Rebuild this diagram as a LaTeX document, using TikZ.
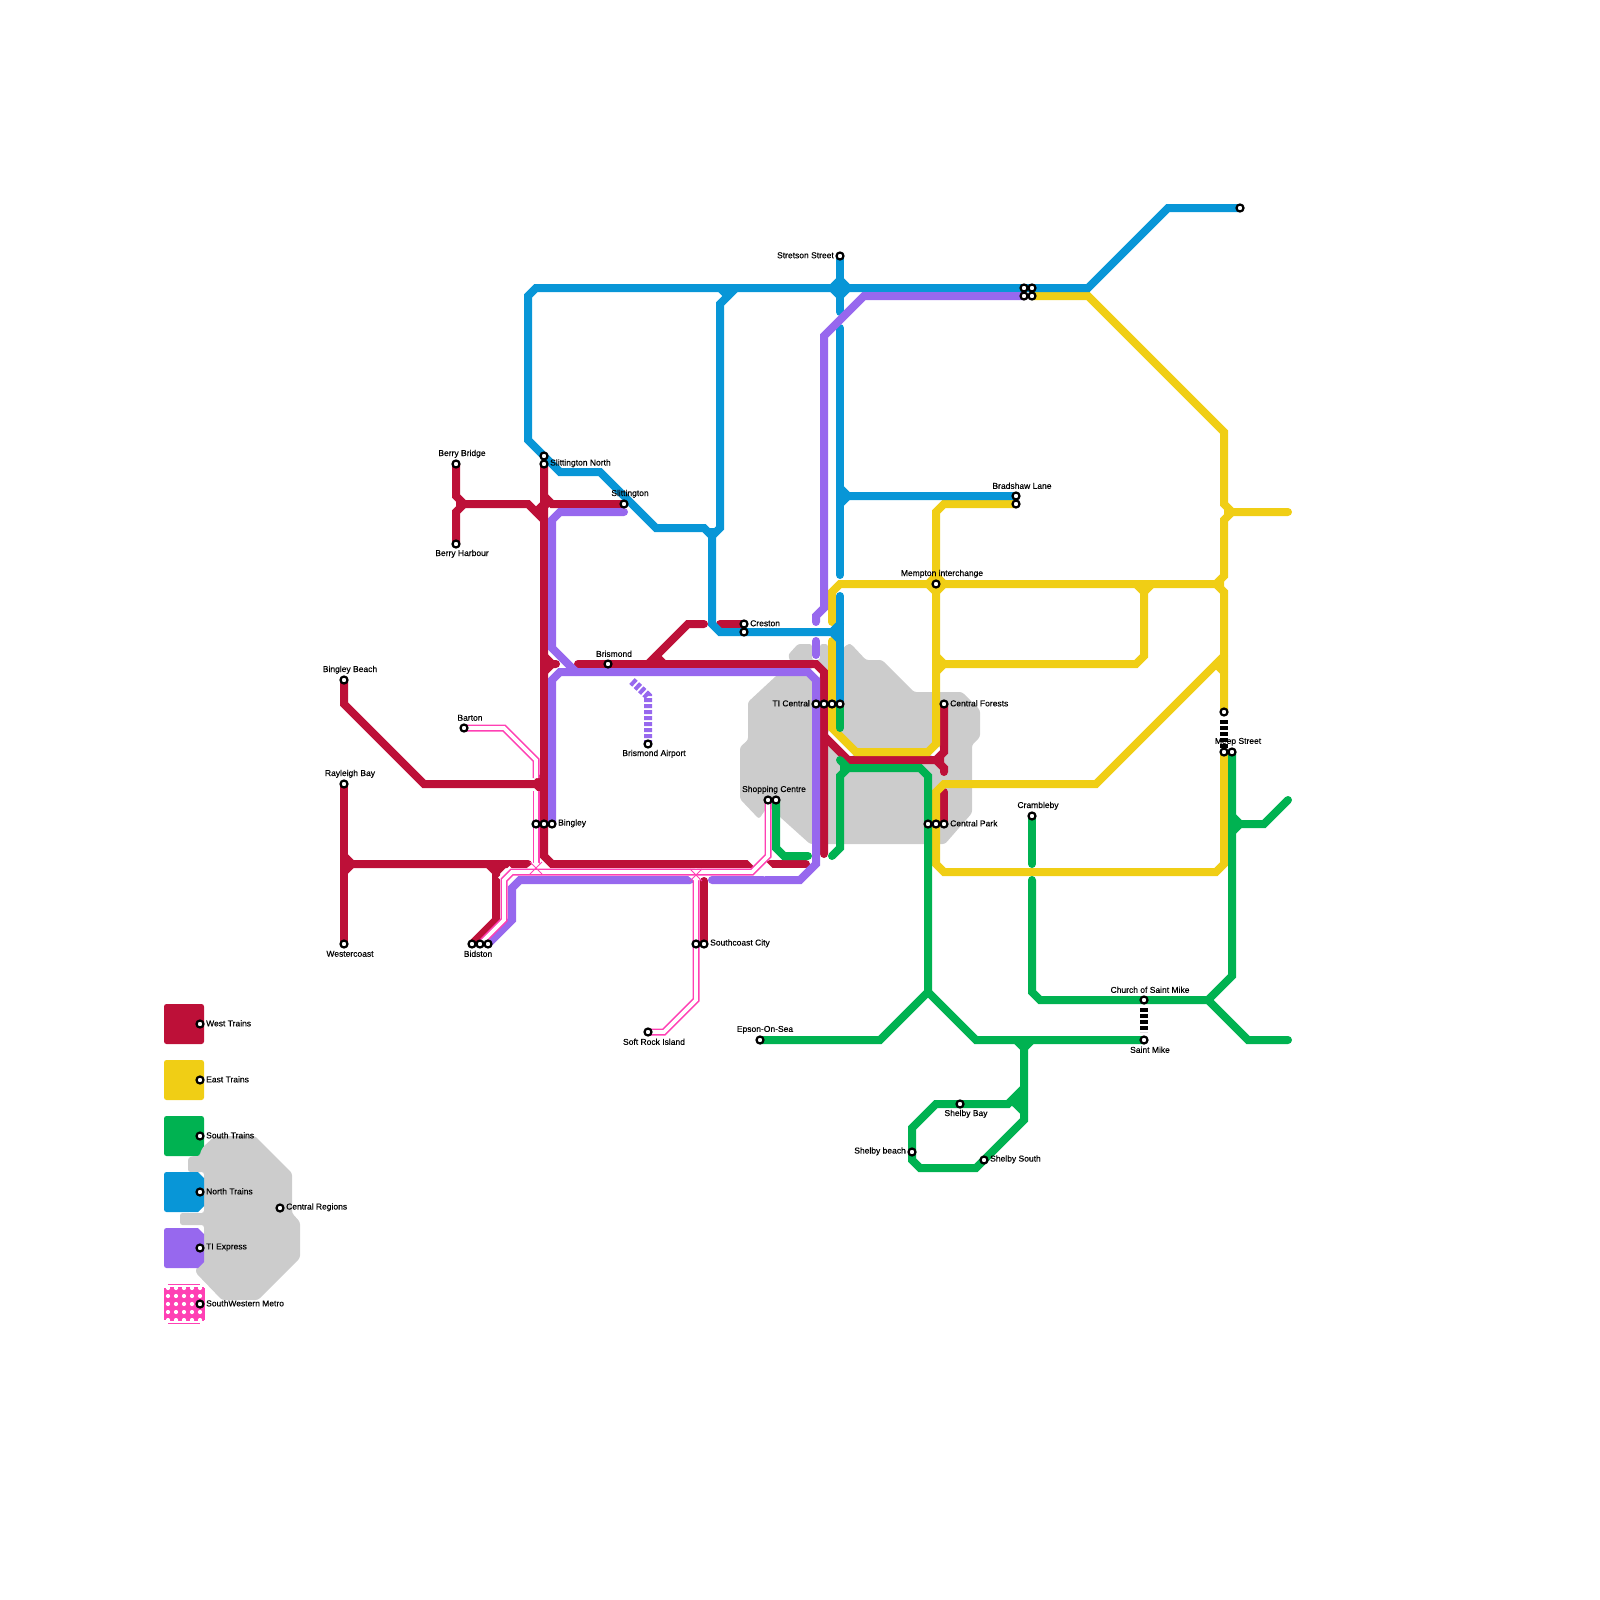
\documentclass[tikz,border=0pt]{standalone}
\usepackage{fontspec}
\setmainfont{Liberation Sans}
\newfontfamily\mapfont[FakeBold=0.25]{Liberation Sans}
\definecolor{cred}{HTML}{BD1038}
\definecolor{cyel}{HTML}{F0CE15}
\definecolor{cgrn}{HTML}{00B251}
\definecolor{cblu}{HTML}{0896D7}
\definecolor{cpur}{HTML}{9768EE}
\definecolor{cpnk}{HTML}{FF40B4}
\definecolor{cgry}{HTML}{CCCCCC}
\pgfdeclarelayer{lines}
\pgfsetlayers{lines,main}
\tikzset{
 metro/.style={line width=8pt,line cap=round,line join=miter},
 wt/.style={metro,draw=cred},
 et/.style={metro,draw=cyel},
 st/.style={metro,draw=cgrn},
 nt/.style={metro,draw=cblu},
 ti/.style={metro,draw=cpur},
 swout/.style={line width=7pt,line cap=butt,line join=miter,draw=cpnk},
 swin/.style={line width=3.6pt,line cap=butt,line join=miter,draw=white},
 region/.style={fill=cgry,rounded corners=2.5pt},
 sliver/.style={draw=white,line width=3.4pt},
 dashline/.style={line width=8pt,dash pattern=on 4pt off 2pt},
 dot/.style={circle,draw=black,fill=white,line width=2.2pt,minimum size=7pt,inner sep=0pt},
 lab/.style={font=\mapfont\fontsize{8.5}{9}\selectfont,inner sep=0pt,text=black,yshift=-0.8pt},
 labw/.style={lab,anchor=west,yshift=0.5pt},
 labe/.style={lab,anchor=east,yshift=0.5pt},
}
\newcommand{\swline}[1]{\draw[swout] #1; \draw[swin] #1;}
\begin{document}
\begin{tikzpicture}[x=1pt,y=-1pt]
\useasboundingbox (0,0) rectangle (1600,1600);
% stations
\foreach \n/\x/\y in {BerryBridge/456/464,BerryHarbour/456/544,SlitA/544/456,SlitN/544/464,Slit/624/504,
 Brismond/608/664,Barton/464/728,CrestonA/744/624,Creston/744/632,
 TIa/816/704,TIb/824/704,TIc/832/704,TId/840/704,Airport/648/744,
 ShopA/768/800,ShopB/776/800,Forests/944/704,ParkA/928/824,ParkB/936/824,ParkC/944/824,
 BingA/536/824,BingB/544/824,BingC/552/824,BidA/472/944,BidB/480/944,BidC/488/944,
 SouthA/696/944,SouthB/704/944,SoftRock/648/1032,BingBeach/344/680,Rayleigh/344/784,Wester/344/944,
 Stretson/840/256,FourA/1024/288,FourB/1032/288,FourC/1024/296,FourD/1032/296,BlueEnd/1240/208,
 BradA/1016/496,BradB/1016/504,Mempton/936/584,MeepTop/1224/712,MeepA/1224/752,MeepB/1232/752,
 Cramb/1032/816,Church/1144/1000,SaintMike/1144/1040,Epson/760/1040,ShelBay/960/1104,ShelBeach/912/1152,ShelSouth/984/1160,
 LegW/200/1024,LegE/200/1080,LegS/200/1136,LegN/200/1192,LegT/200/1248,LegM/200/1304,CentralReg/280/1208}
 {\node[dot] (\n) at (\x,\y) {};}
% labels
\node[lab] (tBerryBridge) at (462,453) {Berry Bridge};
\node[lab] (tBerryHarbour) at (462,553) {Berry Harbour};
\node[labw] (tSlitN) at (550,463) {Slittington North};
\node[lab] (tSlit) at (630,493) {Slittington};
\node[lab] (tBrismond) at (614,653) {Brismond};
\node[lab] (tBarton) at (470,717) {Barton};
\node[labw] (tCreston) at (750,623) {Creston};
\node[labe] (tTI) at (810,703) {TI Central};
\node[lab] (tAirport) at (654,753) {Brismond Airport};
\node[lab] (tShop) at (774,789) {Shopping Centre};
\node[labw] (tForests) at (950,703) {Central Forests};
\node[labw] (tPark) at (950,823) {Central Park};
\node[labw] (tBingley) at (558,823) {Bingley};
\node[lab] (tBidston) at (478,953) {Bidston};
\node[labw] (tSouth) at (710,943) {Southcoast City};
\node[lab] (tSoft) at (654,1041) {Soft Rock Island};
\node[lab] (tBingBeach) at (350,669) {Bingley Beach};
\node[lab] (tRayleigh) at (350,773) {Rayleigh Bay};
\node[lab] (tWester) at (350,953) {Westercoast};
\node[labe] (tStretson) at (834,255) {Stretson Street};
\node[lab] (tBrad) at (1022,485) {Bradshaw Lane};
\node[lab] (tMempton) at (942,573) {Mempton interchange};
\node[lab] (tMeep) at (1238,741) {Meep Street};
\node[lab] (tCramb) at (1038,805) {Crambleby};
\node[lab] (tChurch) at (1150,989) {Church of Saint Mike};
\node[lab] (tSaint) at (1150,1049) {Saint Mike};
\node[lab] (tShelBay) at (966,1113) {Shelby Bay};
\node[labw] (tShelSouth) at (990,1159) {Shelby South};
\node[labe] (tShelBeach) at (906,1151) {Shelby beach};
\node[lab] (tEpson) at (765,1029) {Epson-On-Sea};
\node[labw] (tLegW) at (206,1023) {West Trains};
\node[labw] (tLegE) at (206,1079) {East Trains};
\node[labw] (tLegS) at (206,1135) {South Trains};
\node[labw] (tLegN) at (206,1191) {North Trains};
\node[labw] (tLegT) at (206,1247) {TI Express};
\node[labw] (tLegM) at (206,1303) {SouthWestern Metro};
\node[labw] (tCentral) at (286,1207) {Central Regions};

\begin{pgfonlayer}{lines}
% legend squares below region
\fill[cred,rounded corners=2.5pt] (164,1004) rectangle (204,1044);
\fill[cyel,rounded corners=2.5pt] (164,1060) rectangle (204,1100);
\fill[cgrn,rounded corners=2.5pt] (164,1116) rectangle (204,1156);
% regions
\path[region] (192,1156) -- (200,1156) -- (200,1153) -- (203,1147) -- (215,1136) -- (255,1136) -- (292,1173) -- (292,1213) -- (300,1222) -- (300,1258) -- (258,1300) -- (222,1300) -- (196,1273) -- (196,1268) -- (204,1262) -- (204,1225) -- (180,1225) -- (180,1213) -- (204,1213) -- (204,1172) -- (188,1172) -- (188,1158) -- cycle;
\path[region] (790,660) -- (788,655) -- (798,644) -- (812,644) -- (812,660) -- (820,660) -- (820,644) -- (828,644) -- (828,660) -- (843,660) -- (843,648) -- (848,644) -- (851,644) -- (866,660) -- (882,660) -- (914,692) -- (962,692) -- (980,710) -- (980,737) -- (972,745) -- (972,813) -- (945,844) -- (810,844) -- (780,817) -- (768,806) -- (759,819) -- (740,799) -- (740,747) -- (748,740) -- (748,702) -- (776,676) -- (790,668) -- cycle;
\draw[sliver] (828,732) -- (852,756);
\draw[sliver] (940,748) -- (932,756);
\draw[sliver] (812,668) -- (820,676);
% legend squares over region
\fill[cblu] (190,1172) -- (198,1172) -- (204,1178) -- (204,1206) -- (198,1212) -- (190,1212) -- cycle;
\fill[cblu,rounded corners=2.5pt] (164,1172) rectangle (192,1212);
\fill[cpur] (190,1228) -- (198,1228) -- (204,1234) -- (204,1262) -- (198,1268) -- (190,1268) -- cycle;
\fill[cpur,rounded corners=2.5pt] (164,1228) rectangle (192,1268);
% SouthWestern legend
\fill[cpnk] (166,1287) rectangle (203.5,1321);
\draw[cpnk,line width=1.2pt] (168,1284.4) -- (200,1284.4) (168,1323.6) -- (200,1323.6) (165,1288) -- (165,1320) (204.4,1288) -- (204.4,1320);
\foreach \px in {168,176,184,192,200}{\foreach \py in {1288,1296,1304,1312,1320}{\fill[white] (\px,\py) circle (2.1pt);}}
% West Trains
\draw[wt] (BerryBridge.center) -- (456,496) -- (464,504) -- (528,504) -- (544,520);
\draw[wt] (BerryHarbour.center) -- (456,512) -- (464,504);
\draw[wt] (Slit.center) -- (552,504) -- (544,496);
\draw[wt] (SlitN.center) -- (544,856) -- (552,864) -- (752,864);
\draw[wt] (544,656) -- (552,664) -- (556,664);
\draw[wt] (544,672) -- (552,664);
\draw[wt] (578,664) -- (816,664) -- (824,672) -- (824,854);
\draw[wt] (704,624) -- (688,624) -- (648,664);
\draw[wt] (656,656) -- (664,664);
\draw[wt] (720,624) -- (CrestonA.center);
\draw[wt] (824,736) -- (848,760) -- (936,760) -- (944,752) -- (Forests.center);
\draw[wt] (936,760) -- (944,768) -- (944,772);
\draw[wt] (944,792) -- (ParkC.center);
\draw[wt] (770,864) -- (806,864);
\draw[wt] (704,881) -- (SouthB.center);
\draw[wt] (Rayleigh.center) -- (Wester.center);
\draw[wt] (344,856) -- (352,864) -- (528,864);
\draw[wt] (344,872) -- (352,864);
\draw[wt] (488,864) -- (496,872) -- (496,920) -- (BidA.center);
\draw[wt] (504,864) -- (496,872);
\draw[wt] (BingBeach.center) -- (344,704) -- (424,784) -- (544,784);
\draw[wt] (544,776) -- (536,784) -- (544,792);
\draw[wt] (536,512) -- (544,504);
\fill[cred] (456,496) -- (464,504) -- (456,512) -- cycle
 (536,512) -- (544,504) -- (544,520) -- cycle
 (544,496) -- (552,504) -- (544,512) -- cycle
 (544,656) -- (552,664) -- (544,672) -- cycle
 (648,664) -- (656,656) -- (664,664) -- cycle
 (936,760) -- (944,752) -- (944,768) -- cycle
 (344,856) -- (352,864) -- (344,872) -- cycle
 (488,864) -- (496,872) -- (504,864) -- cycle
 (536,784) -- (544,776) -- (544,792) -- cycle;
% East Trains
\draw[et] (FourD.center) -- (1088,296) -- (1224,432) -- (1224,504) -- (1232,512) -- (1288,512);
\draw[et] (1232,512) -- (1224,520) -- (1224,576) -- (1216,584) -- (840,584) -- (832,592) -- (832,622);
\draw[et] (1216,584) -- (1224,592) -- (MeepTop.center);
\draw[et] (1136,584) -- (1144,592) -- (1144,656) -- (1136,664) -- (944,664) -- (936,656);
\draw[et] (1152,584) -- (1144,592);
\draw[et] (944,664) -- (936,672);
\draw[et,fill=cyel] (928,584) -- (936,576) -- (944,584) -- (936,592) -- cycle;
\draw[et] (BradB.center) -- (944,504) -- (936,512) -- (936,744) -- (928,752) -- (856,752) -- (832,728) -- (832,641);
\draw[et] (1224,656) -- (1096,784) -- (944,784) -- (936,792) -- (936,864) -- (944,872) -- (1216,872) -- (1224,864) -- (MeepA.center);
\draw[et] (1216,664) -- (1224,672);
\fill[cyel] (1224,504) -- (1232,512) -- (1224,520) -- cycle
 (1136,584) -- (1144,592) -- (1152,584) -- cycle
 (1216,584) -- (1224,576) -- (1224,592) -- cycle
 (936,656) -- (944,664) -- (936,672) -- cycle
 (1216,664) -- (1224,656) -- (1224,672) -- cycle;
% South Trains
\draw[st] (TId.center) -- (840,728);
\draw[st] (840,760) -- (848,768) -- (920,768) -- (928,776) -- (928,992);
\draw[st] (848,768) -- (840,776) -- (840,848) -- (832,856);
\draw[st] (ShopB.center) -- (776,848) -- (784,856) -- (808,856);
\draw[st] (MeepB.center) -- (1232,976) -- (1208,1000) -- (1040,1000) -- (1032,992) -- (1032,880);
\draw[st] (Cramb.center) -- (1032,864);
\draw[st] (1232,816) -- (1240,824) -- (1264,824) -- (1288,800);
\draw[st] (1232,832) -- (1240,824);
\draw[st] (1208,1000) -- (1248,1040) -- (1288,1040);
\draw[st] (Epson.center) -- (880,1040) -- (928,992) -- (976,1040) -- (SaintMike.center);
\draw[st] (1016,1040) -- (1024,1048) -- (1024,1120) -- (ShelSouth.center) -- (976,1168) -- (920,1168) -- (912,1160) -- (912,1128) -- (936,1104) -- (1008,1104) -- (1024,1088);
\draw[st] (1032,1040) -- (1024,1048);
\draw[st] (1016,1104) -- (1024,1112);
\fill[cgrn] (840,760) -- (848,768) -- (840,776) -- cycle
 (1232,816) -- (1240,824) -- (1232,832) -- cycle
 (1016,1040) -- (1024,1048) -- (1032,1040) -- cycle
 (1008,1104) -- (1024,1088) -- (1024,1112) -- cycle;
% North Trains
\draw[nt] (Stretson.center) -- (840,312);
\draw[nt,fill=cblu] (832,288) -- (840,280) -- (848,288) -- (840,296) -- cycle;
\draw[nt] (840,328) -- (840,575);
\draw[nt] (840,596) -- (TId.center);
\draw[nt] (840,624) -- (832,632) -- (720,632) -- (712,624) -- (712,536) -- (704,528) -- (656,528) -- (600,472) -- (560,472) -- (528,440) -- (528,296) -- (536,288) -- (1088,288) -- (1168,208) -- (BlueEnd.center);
\draw[nt] (832,632) -- (840,640);
\draw[nt] (712,536) -- (720,528) -- (720,304) -- (736,288);
\draw[nt] (720,288) -- (728,296);
\draw[nt] (BradA.center) -- (848,496) -- (840,488);
\draw[nt] (848,496) -- (840,504);
\fill[cblu] (832,632) -- (840,624) -- (840,640) -- cycle
 (704,528) -- (712,536) -- (720,528) -- cycle
 (720,288) -- (728,296) -- (736,288) -- cycle
 (840,488) -- (848,496) -- (840,504) -- cycle;
% TI Express
\draw[ti] (Slit.center) ++(0,8) -- (560,512) -- (552,520) -- (552,648) -- (576,672);
\draw[ti] (BingC.center) -- (552,680) -- (560,672) -- (808,672) -- (816,680) -- (816,864) -- (800,880) -- (712,880);
\draw[ti] (690,880) -- (520,880) -- (512,888) -- (512,920) -- (BidC.center);
\draw[ti] (FourC.center) -- (864,296) -- (824,336) -- (824,608) -- (816,616) -- (816,622);
\draw[ti] (816,641) -- (816,655);
\draw[cpur,dashline] (632,681) -- (648,696) -- (648,742);
% SouthWestern Metro
\swline{(Barton.center) -- (504,728) -- (536,760) -- (536,778)}
\swline{(536,791) -- (536,868)}
\swline{(696,878) -- (696,1000) -- (664,1032) -- (SoftRock.center)}
\fill[white] (527,868) -- (536,861) -- (545,868) -- (536,875) -- cycle;
\fill[white] (687,875) -- (696,868) -- (705,875) -- (696,882) -- cycle;
\fill[white,rotate around={45:(508,876)}] (500,870) rectangle (516,882);
\fill[white,rotate around={-45:(760,864)}] (748,858) rectangle (772,870);
\swline{(BidB.center) -- (504,920) -- (504,880) -- (512,872) -- (752,872) -- (768,856) -- (ShopA.center)}
\draw[cpnk,line width=1pt] (530,862) -- (542,874) (530,874) -- (542,862);
\draw[cpnk,line width=1pt] (690,869) -- (702,881) (690,881) -- (702,869);
% dashed links
\draw[black,dashline] (1224,720) -- (MeepA.center);
\draw[black,dashline] (1144,1008) -- (1144,1032);
\end{pgfonlayer}
\end{tikzpicture}
\end{document}
